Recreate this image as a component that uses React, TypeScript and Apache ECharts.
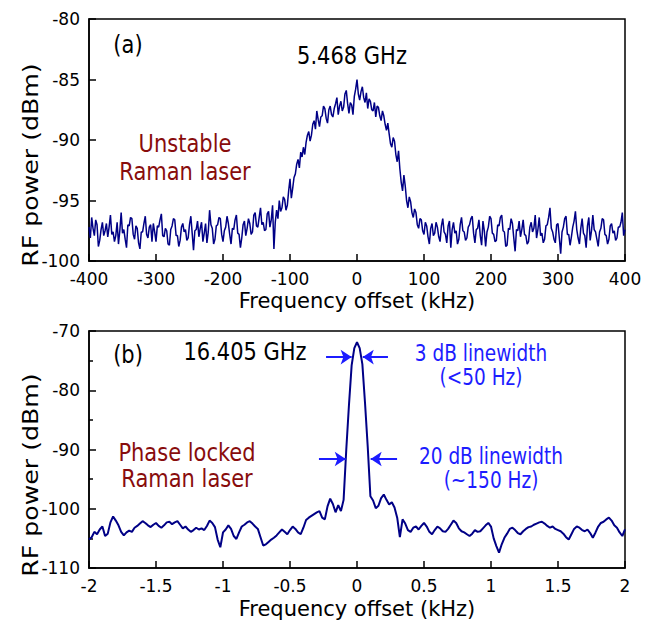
import React, { useEffect, useRef } from "react";
import * as echarts from "echarts";

// Panel (a): unstable Raman laser beat note, sampled every 2 kHz from -400 kHz
const A_X_START = -400;
const A_X_STEP = 2;
const A_POWER = [
  -97.2, -98.1, -96.4, -97.3, -97.9, -96.6, -97.0, -98.8, -98.3, -97.4, -96.8, -97.9, -97.5, -96.9, -98.0, -97.2, -96.2, -97.8, -97.6, -98.4,
  -97.9, -96.8, -98.6, -97.5, -96.0, -97.7, -97.4, -98.2, -98.9, -97.0, -97.1, -96.4, -96.5, -97.8, -98.2, -97.1, -97.3, -98.5, -99.0, -97.6,
  -97.6, -96.9, -96.3, -97.8, -98.1, -97.2, -97.0, -98.4, -96.9, -97.6, -98.4, -97.1, -97.2, -96.6, -96.1, -97.9, -98.0, -97.3, -97.5, -98.6,
  -98.7, -97.4, -97.1, -96.5, -96.6, -97.9, -97.9, -98.8, -98.3, -97.2, -96.9, -97.6, -97.4, -98.3, -98.1, -97.0, -96.3, -97.7, -99.1, -97.5,
  -97.4, -96.7, -98.0, -97.3, -96.8, -98.4, -97.7, -96.9, -98.5, -97.6, -95.8, -97.0, -97.3, -98.6, -98.2, -97.1, -97.0, -96.4, -96.5, -97.8,
  -98.4, -97.5, -97.2, -96.3, -96.9, -97.8, -98.6, -97.3, -97.4, -96.6, -96.2, -97.7, -97.8, -98.9, -98.1, -97.0, -96.7, -97.9, -97.3, -96.5,
  -96.9, -97.8, -97.6, -96.2, -96.0, -97.1, -97.2, -96.4, -95.6, -97.0, -96.8, -97.5, -97.4, -96.1, -95.9, -97.2, -96.6, -95.4, -99.0, -96.8,
  -95.8, -96.5, -95.0, -95.9, -95.6, -94.7, -94.9, -95.8, -95.4, -94.2, -93.2, -94.8, -94.0, -93.1, -92.8, -92.0, -91.6, -92.3, -91.0, -91.4,
  -90.6, -91.2, -90.2, -89.6, -89.3, -90.1, -89.6, -88.7, -88.4, -89.1, -87.6, -88.3, -88.9, -88.1, -88.0, -87.2, -87.4, -88.2, -88.6, -87.5,
  -87.2, -87.9, -88.1, -87.4, -87.0, -86.5, -87.9, -87.2, -86.8, -87.6, -87.3, -86.2, -85.9, -87.0, -87.8, -86.9, -87.1, -87.9, -86.4, -85.8,
  -85.0, -86.2, -86.7, -86.0, -85.6, -86.5, -86.9, -86.1, -87.4, -86.6, -86.8, -87.5, -87.6, -86.9, -88.1, -87.2, -87.3, -88.0, -88.4, -87.6,
  -88.0, -88.7, -89.2, -88.6, -89.5, -90.3, -90.6, -89.8, -90.1, -91.2, -91.8, -90.9, -92.4, -93.5, -94.2, -92.9, -93.8, -95.0, -95.6, -94.7,
  -95.1, -96.0, -96.4, -95.7, -96.0, -97.0, -97.3, -96.5, -96.6, -97.5, -97.8, -96.8, -97.1, -98.0, -98.6, -97.3, -96.9, -97.9, -97.7, -96.8,
  -97.2, -98.0, -98.4, -97.1, -96.5, -97.6, -97.8, -98.5, -97.1, -96.7, -98.9, -97.4, -96.8, -97.7, -97.5, -98.6, -98.2, -97.0, -96.4, -97.5,
  -97.6, -98.3, -98.1, -97.2, -97.0, -96.5, -96.3, -97.7, -98.5, -97.4, -97.3, -96.6, -97.9, -98.7, -96.7, -97.5, -98.8, -97.6, -97.2, -96.3,
  -96.5, -97.7, -97.8, -98.4, -98.3, -97.0, -97.1, -96.4, -96.2, -97.5, -97.6, -98.8, -98.7, -97.3, -97.4, -96.5, -96.9, -98.1, -99.2, -97.4,
  -97.5, -96.7, -98.0, -97.4, -96.6, -97.8, -97.9, -98.6, -98.4, -97.2, -96.8, -97.6, -97.3, -96.2, -98.1, -97.4, -96.4, -97.9, -97.7, -98.5,
  -98.2, -97.1, -97.0, -96.4, -95.6, -97.3, -97.6, -98.2, -98.5, -97.0, -96.9, -98.1, -99.4, -97.6, -97.2, -96.5, -96.3, -97.8, -97.8, -98.7,
  -98.0, -97.2, -96.7, -95.9, -97.4, -98.1, -98.6, -97.3, -96.5, -97.7, -97.9, -98.9, -97.1, -96.4, -98.3, -97.5, -96.2, -97.4, -97.6, -98.2,
  -98.8, -97.6, -97.3, -96.5, -96.6, -97.8, -97.9, -98.6, -98.2, -97.1, -96.9, -97.7, -97.5, -98.3, -98.1, -97.2, -97.2, -96.8, -96.0, -97.9,
  -97.4,
];

// Panel (b): phase locked Raman laser, sampled every 0.02 kHz from -2 kHz
const B_X_START = -2;
const B_X_STEP = 0.02;
const B_POWER = [
  -105.2, -104.8, -103.9, -104.3, -103.5, -103.0, -104.6, -104.2, -102.3, -101.3,
  -102.0, -102.8, -103.9, -104.5, -104.0, -103.7, -103.9, -103.2, -102.9, -102.5,
  -102.1, -102.4, -102.8, -103.1, -102.7, -102.4, -102.9, -103.2, -102.8, -102.3,
  -102.2, -102.6, -102.3, -102.1, -102.7, -103.3, -103.0, -103.5, -103.9, -103.6,
  -103.2, -103.5, -103.3, -103.6, -102.9, -102.0, -102.4, -103.1, -105.2, -106.5,
  -104.0, -103.5, -102.8, -103.4, -104.6, -105.1, -104.0, -103.0, -102.7, -102.3,
  -102.1, -102.5, -103.0, -103.4, -104.8, -106.2, -106.0, -105.6, -105.2, -104.9,
  -104.5, -104.0, -103.5, -103.9, -104.3, -103.6, -103.0, -103.4, -104.0, -104.3,
  -103.2, -101.9, -101.5, -101.2, -100.9, -100.6, -100.4, -101.5, -101.8, -99.6,
  -98.3, -99.2, -100.6, -99.4, -100.4, -98.5, -90.0, -82.5, -75.8, -72.9,
  -71.9, -72.9, -75.6, -82.2, -89.5, -97.9, -98.6, -99.9, -99.5, -98.2,
  -97.6, -98.5, -99.3, -98.9, -99.8, -101.5, -104.8, -101.8, -102.5, -103.6,
  -103.9, -103.2, -103.0, -103.5, -102.9, -102.4, -103.0, -103.9, -104.3, -103.6,
  -103.0, -103.3, -103.8, -103.9, -103.4, -102.7, -102.0, -102.4, -103.3, -103.8,
  -104.0, -104.3, -104.6, -104.2, -103.6, -103.9, -103.8, -103.3, -102.8, -102.4,
  -103.0, -105.0, -106.3, -107.4, -106.0, -104.9, -104.2, -103.4, -103.2, -103.6,
  -104.1, -104.3, -103.8, -103.4, -103.1, -103.0, -102.7, -102.5, -102.3, -102.2,
  -102.5, -102.9, -103.2, -103.0, -103.4, -103.6, -103.8, -104.2, -104.8, -105.2,
  -104.3, -103.4, -103.0, -103.2, -103.6, -103.8, -103.5, -104.1, -104.9, -104.0,
  -103.0, -102.4, -102.2, -101.8, -101.5, -102.0, -102.8, -103.2, -104.0, -104.6,
  -103.5,
];

// axis ranges: [min, max, interval]
const A_X_AXIS = [-400, 400, 100];
const A_Y_AXIS = [-100, -80, 5];
const B_X_AXIS = [-2, 2, 0.5];
const B_Y_AXIS = [-110, -70, 10];

// linewidth arrows in panel (b): [level dB, from kHz, to kHz]
const ARROWS_B = [
  [-74.4, -0.231, -0.04],
  [-74.4, 0.231, 0.043],
  [-91.6, -0.284, -0.084],
  [-91.6, 0.299, 0.102],
];

const FONT = "DejaVu Sans";
const LINE_COLOR = "#000086";
const RED = "#880c0c";
const BLUE = "#1c1cff";

function txt(text: string, x: number, y: number, color: string, size: number, extra: any = {}) {
  return {
    type: "text",
    x,
    y,
    scaleY: 1.2,
    silent: true,
    style: {
      text,
      fill: color,
      font: `${size}px "${FONT}"`,
      textAlign: "center",
      textVerticalAlign: "middle",
    },
    ...extra,
  };
}

export default function App() {
  const ref = useRef<HTMLDivElement>(null);
  useEffect(() => {
    const chart = echarts.init(ref.current!, null, { renderer: "svg" });
    const dataA = A_POWER.map((v, i) => [A_X_START + A_X_STEP * i, v]);
    const dataB = B_POWER.map((v, i) => [+(B_X_START + B_X_STEP * i).toFixed(2), v]);

    const axisLine = { show: true, onZero: false, lineStyle: { color: "#000", width: 1.5 } };
    const axisTick = { show: true, inside: true, length: 7, lineStyle: { color: "#000", width: 1.5 } };
    const axisLabel = { color: "#000", fontSize: 17, fontFamily: FONT, margin: 9, showMinLabel: true, showMaxLabel: true };

    const yTitle = (text: string, x: number, y: number) => ({
      type: "text",
      x,
      y,
      rotation: Math.PI / 2,
      scaleX: 1.2,
      silent: true,
      style: {
        text,
        fill: "#000",
        font: `21px "${FONT}"`,
        textAlign: "center",
        textVerticalAlign: "middle",
      },
    });

    chart.setOption({
      animation: false,
      backgroundColor: "#fff",
      grid: [
        { left: 89, width: 536, top: 19, height: 242, show: true, borderColor: "#000", borderWidth: 1.5, containLabel: false },
        { left: 89, width: 536, top: 331, height: 240, show: true, borderColor: "#000", borderWidth: 1.5, containLabel: false },
      ],
      xAxis: [
        {
          gridIndex: 0, type: "value", min: A_X_AXIS[0], max: A_X_AXIS[1], interval: A_X_AXIS[2],
          axisLine, axisTick, axisLabel, splitLine: { show: false },
          name: "Frequency offset (kHz)", nameLocation: "middle", nameGap: 29,
          nameTextStyle: { color: "#000", fontSize: 21, fontFamily: FONT },
        },
        {
          gridIndex: 1, type: "value", min: B_X_AXIS[0], max: B_X_AXIS[1], interval: B_X_AXIS[2],
          axisLine, axisTick, axisLabel, splitLine: { show: false },
          name: "Frequency offset (kHz)", nameLocation: "middle", nameGap: 30,
          nameTextStyle: { color: "#000", fontSize: 21, fontFamily: FONT },
        },
      ],
      yAxis: [
        {
          gridIndex: 0, type: "value", min: A_Y_AXIS[0], max: A_Y_AXIS[1], interval: A_Y_AXIS[2],
          axisLine, axisTick, axisLabel, splitLine: { show: false },
        },
        {
          gridIndex: 1, type: "value", min: B_Y_AXIS[0], max: B_Y_AXIS[1], interval: B_Y_AXIS[2],
          axisLine, axisTick, axisLabel, splitLine: { show: false },
          minorTick: { show: true, splitNumber: 2, length: 4, lineStyle: { color: "#000", width: 1.5 } },
        },
      ],
      series: [
        {
          type: "line", xAxisIndex: 0, yAxisIndex: 0, data: dataA, showSymbol: false, symbol: "none",
          lineStyle: { color: LINE_COLOR, width: 1.5 }, silent: true, emphasis: { disabled: true },
        },
        {
          type: "line", xAxisIndex: 1, yAxisIndex: 1, data: dataB, showSymbol: false, symbol: "none",
          lineStyle: { color: LINE_COLOR, width: 2 }, silent: true, emphasis: { disabled: true },
          markLine: {
            silent: true,
            symbol: ["none", "arrow"],
            symbolSize: 11,
            label: { show: false },
            emphasis: { disabled: true },
            lineStyle: { color: BLUE, width: 2, type: "solid" },
            data: ARROWS_B.map(([lvl, from, to]) => [
              { coord: [from, lvl] },
              { coord: [to, lvl] },
            ]),
          },
        },
      ],
      graphic: [
        yTitle("RF power (dBm)", 30, 165),
        yTitle("RF power (dBm)", 30, 475),
        txt("(a)", 128, 44, "#000", 21),
        txt("5.468 GHz", 352, 55, "#000", 21),
        txt("Unstable", 185, 143, RED, 21),
        txt("Raman laser", 185, 171, RED, 21),
        txt("(b)", 128, 354, "#000", 21),
        txt("16.405 GHz", 245, 351, "#000", 21),
        txt("3 dB linewidth", 481, 353, BLUE, 18.5),
        txt("(<50 Hz)", 481, 377, BLUE, 18.5),
        txt("20 dB linewidth", 491, 456, BLUE, 18.5),
        txt("(~150 Hz)", 491, 480, BLUE, 18.5),
        txt("Phase locked", 187, 452, RED, 21),
        txt("Raman laser", 187, 478, RED, 21),
      ],
    });
    return () => chart.dispose();
  }, []);
  return (
    <div
      ref={ref}
      style={{ position: "absolute", left: 0, top: 0, width: 654, height: 620, background: "#fff" }}
    />
  );
}
